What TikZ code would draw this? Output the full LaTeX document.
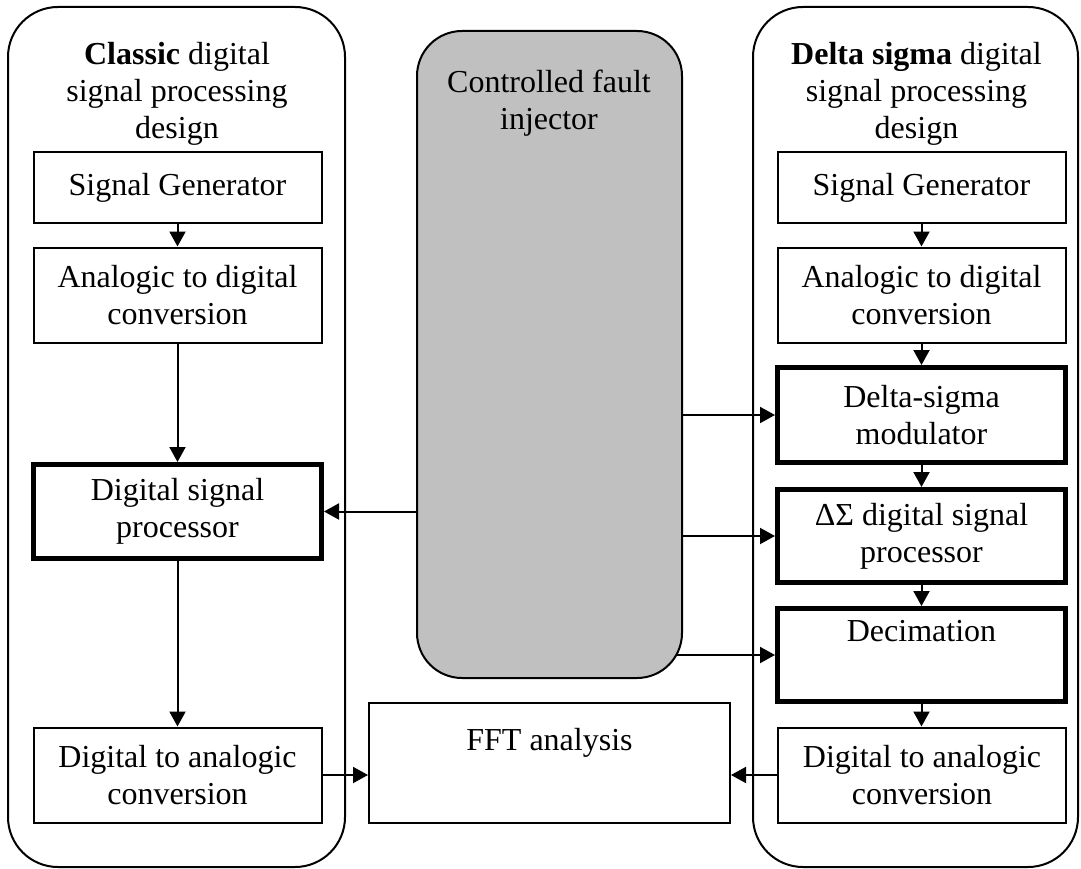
\documentclass[tikz,border=0pt]{standalone}
\usepackage{fontspec}
\setmainfont{Liberation Serif}
\usetikzlibrary{arrows.meta,calc,backgrounds}
\definecolor{injgray}{HTML}{C0C0C0}
\begin{document}
\begin{tikzpicture}[x=1pt,y=-1pt,
  txt/.style={font=\fontsize{32}{37}\selectfont, align=center},
  box/.style={draw, line width=2pt, minimum width=288pt, inner sep=0pt, txt},
  thickbox/.style={draw, line width=5pt, minimum width=288pt, inner sep=0pt, txt},
  cont/.style={draw, line width=2pt, rounded corners=50pt, inner sep=0pt},
  arr/.style={line width=2pt, -{Triangle[length=15pt,width=16pt]}}]
\useasboundingbox (0,0) rectangle (1081,869);
% containers
\node[cont, minimum width=337pt, minimum height=860pt] (lcont) at (176.5,437) {};
\node[cont, minimum width=325pt, minimum height=860pt] (rcont) at (915.5,437) {};
% fault injector
\node[draw, fill=injgray, line width=2pt, rounded corners=45pt, minimum width=265pt, minimum height=647pt, inner sep=0pt] (inj) at (549.5,354.5) {};
\node[txt, inner sep=0pt] (injt) at (549,103.5) {Controlled fault\\injector};
% titles
\node[txt, inner sep=0pt] (ltitle) at (177,93.5) {\textbf{Classic} digital\\signal processing\\design};
\node[txt, inner sep=0pt] (rtitle) at (916.5,93.5) {\textbf{Delta sigma} digital\\signal processing\\design};
% left column
\node[box, minimum height=70pt] (lsg) at (177.5,187.5) {Signal Generator};
\node[box, minimum height=95pt] (ladc) at (177.5,295) {Analogic to digital\\conversion};
\node[thickbox, minimum height=94pt] (ldsp) at (177.5,511.5) {Digital signal\\processor};
\node[box, minimum height=95pt] (ldac) at (177.5,775) {Digital to analogic\\conversion};
% right column
\node[box, minimum height=70pt] (rsg) at (921.5,187.5) {Signal Generator};
\node[box, minimum height=95pt] (radc) at (921.5,295) {Analogic to digital\\conversion};
\node[thickbox, minimum height=95pt] (mod) at (921.5,415) {Delta-sigma\\modulator};
\node[thickbox, minimum height=93pt] (dsp) at (921.5,536) {ΔΣ digital signal\\processor};
\node[thickbox, minimum height=93pt] (dec) at (921.5,655) {Decimation\\\strut};
\node[box, minimum height=95pt] (rdac) at (922,775) {Digital to analogic\\conversion};
% FFT
\node[box, minimum width=361pt, minimum height=120pt] (fft) at (549.5,763) {FFT analysis\\\strut};
% connectors
\draw[arr] (lsg.south) -- (ladc.north);
\draw[arr] (ladc.south) -- (ldsp.north);
\draw[arr] (ldsp.south) -- (ldac.north);
\draw[arr] (rsg.south) -- (radc.north);
\draw[arr] (radc.south) -- (mod.north);
\draw[arr] (mod.south) -- (dsp.north);
\draw[arr] (dsp.south) -- (dec.north);
\draw[arr] (dec.south) -- (dec.south |- rdac.north);
\draw[arr] (inj.west |- ldsp.east) -- (ldsp.east);
\draw[arr] (inj.east |- mod.west) -- (mod.west);
\draw[arr] (inj.east |- dsp.west) -- (dsp.west);
\begin{pgfonlayer}{background}
\draw[arr] ($(inj.east |- dec.west)+(-10,0)$) -- (dec.west);
\end{pgfonlayer}
\draw[arr] (ldac.east) -- (fft.west |- ldac.east);
\draw[arr] (rdac.west) -- (fft.east |- rdac.west);
\end{tikzpicture}
\end{document}
